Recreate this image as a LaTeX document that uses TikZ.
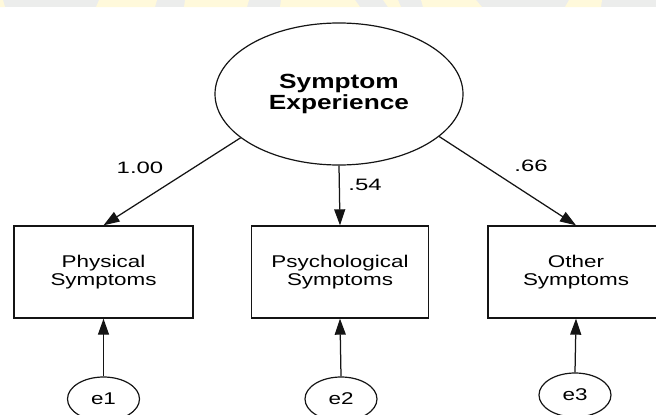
\documentclass[tikz,border=0pt]{standalone}
\usepackage{fontspec}
\setmainfont{Liberation Sans}
\newfontfamily\boxfont{Liberation Sans}[FakeStretch=1.32]
\newfontfamily\latfont{Liberation Sans}[FakeStretch=1.28]
\newfontfamily\labfont{Liberation Sans}[FakeStretch=1.45]
\usetikzlibrary{shapes.geometric,arrows.meta}
\definecolor{wmgray}{HTML}{ECEDEC}
\definecolor{wmyellow}{HTML}{FFF9DB}
\definecolor{ink}{HTML}{141414}
\tikzset{
  latent/.style={ellipse,draw=ink,line width=1.2pt,inner sep=0pt,
    minimum width=248pt,minimum height=142pt,align=center,
    font=\latfont\bfseries\fontsize{20.5}{21.5}\selectfont},
  obsbox/.style={rectangle,draw=ink,line width=1.35pt,inner sep=0pt,
    minimum height=92pt,align=center,
    font=\boxfont\fontsize{17}{18.5}\selectfont},
  errnode/.style={ellipse,draw=ink,line width=1.2pt,inner sep=0pt,
    minimum width=72pt,minimum height=44pt,
    font=\boxfont\fontsize{17}{18}\selectfont},
  loadlab/.style={inner sep=0pt,font=\labfont\fontsize{16.5}{17}\selectfont},
  arr/.style={draw=ink,line width=1.25pt,-{Triangle[length=16pt,width=11pt]}}
}
\begin{document}
\begin{tikzpicture}[x=1pt,y=-1pt]
\useasboundingbox (0,0) rectangle (656,415);
\clip (0,0) rectangle (656,415);
% watermark strip at top
\fill[wmgray] (0,0) rectangle (656,7);
\fill[wmyellow] (0,0) -- (3,0) -- (5,7) -- (0,7) -- cycle;
\fill[wmyellow] (99,0) -- (157,0) -- (155,7) -- (96,7) -- cycle;
\fill[wmyellow] (185,0) -- (249,0) -- (247,7) -- (184,7) -- cycle;
\fill[wmyellow] (281,0) -- (355,0) -- (360,7) -- (280,7) -- cycle;
\fill[wmyellow] (383,0) -- (398,0) -- (401,7) -- (388,7) -- cycle;
\fill[wmyellow] (421,0) -- (476,0) -- (482,7) -- (423,7) -- cycle;
\fill[wmyellow] (569,0) -- (602,0) -- (601,7) -- (565,7) -- cycle;
% nodes
\node[latent] (se) at (339,94) {Symptom\\Experience};
\node[obsbox,minimum width=179pt] (b1) at (103.5,272) {Physical\\Symptoms};
\node[obsbox,minimum width=177pt] (b2) at (340,272) {Psychological\\Symptoms};
\node[obsbox,minimum width=176pt] (b3) at (576,272) {Other\\Symptoms};
\node[errnode] (e1) at (103.5,399) {e1};
\node[errnode] (e2) at (341,399) {e2};
\node[errnode] (e3) at (575,395) {e3};
\node[loadlab] (l1) at (140,168) {1.00};
\node[loadlab] (l2) at (365,185) {.54};
\node[loadlab] (l3) at (531,166) {.66};
% connectors
\draw[arr] (se.204) -- (b1.north);
\draw[arr] (se.south) -- (b2.north);
\draw[arr] (se.-23.5) -- (b3.north);
\draw[arr] (e1.north) -- (b1.south);
\draw[arr] (e2.north) -- (b2.south);
\draw[arr] (e3.north) -- (b3.south);
\end{tikzpicture}
\end{document}
